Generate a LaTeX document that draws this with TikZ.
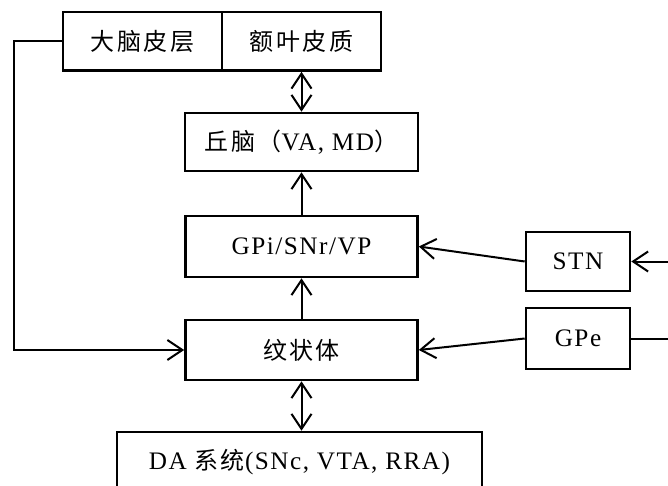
\documentclass[tikz,border=0pt]{standalone}
\usepackage{fontspec}
\setmainfont{Liberation Serif}[LetterSpace=6, Scale=1.05]
\newfontfamily\cjk{Noto Sans CJK SC}[LetterSpace=10]
\usetikzlibrary{arrows.meta}
\tikzset{
  box/.style={draw, line width=2.6pt, fill=white, inner sep=0pt, font=\fontsize{24}{28}\selectfont},
  conn/.style={line width=2pt},
  tip/.style={-{Straight Barb[length=15pt,width=20pt,line width=2pt]}},
  dtip/.style={{Straight Barb[length=15pt,width=20pt,line width=2pt]}-{Straight Barb[length=15pt,width=20pt,line width=2pt]}}
}
\begin{document}
\begin{tikzpicture}[x=1pt,y=-1pt]
\useasboundingbox (0,0) rectangle (668,486);
\clip (0,0) rectangle (668,486);
\node[box, minimum width=159pt, minimum height=58.5pt] (cortex) at (142.5,41.25) {\cjk 大脑皮层};
\node[box, minimum width=159pt, minimum height=58.5pt] (front) at (301.5,41.25) {\cjk 额叶皮质};
\node[box, minimum width=233pt, minimum height=58pt] (thal) at (301.5,142) {{\cjk 丘脑（}VA, MD{\cjk ）}};
\node[box, minimum width=232pt, minimum height=61pt] (gpi) at (301.5,246.5) {GPi/SNr/VP};
\node[box, minimum width=232pt, minimum height=60pt] (str) at (301.5,350) {\cjk 纹状体};
\node[box, minimum width=365pt, minimum height=60pt] (da) at (299.5,462) {DA {\cjk 系统}(SNc, VTA, RRA)};
\node[box, minimum width=104pt, minimum height=59pt] (stn) at (578,261.5) {STN};
\node[box, minimum width=104pt, minimum height=61pt] (gpe) at (578,338.5) {GPe};
\coordinate (rin) at (668,261.5);
\coordinate (rout) at (668,338.5);
\coordinate (l1) at (14,41.25);
\coordinate (l2) at (14,350);
\draw[conn,dtip] (front.south) -- (thal.north);
\draw[conn,tip] (gpi.north) -- (thal.south);
\draw[conn,tip] (str.north) -- (gpi.south);
\draw[conn,dtip] (str.south) -- (da.north -| str.south);
\draw[conn,tip] (stn.west) -- (gpi.east);
\draw[conn,tip] (gpe.west) -- (str.east);
\draw[conn,tip] (rin) -- (stn.east);
\draw[conn] (gpe.east) -- (rout);
\draw[conn,tip] (cortex.west) -- (l1) -- (l2) -- (str.west);
\end{tikzpicture}
\end{document}
